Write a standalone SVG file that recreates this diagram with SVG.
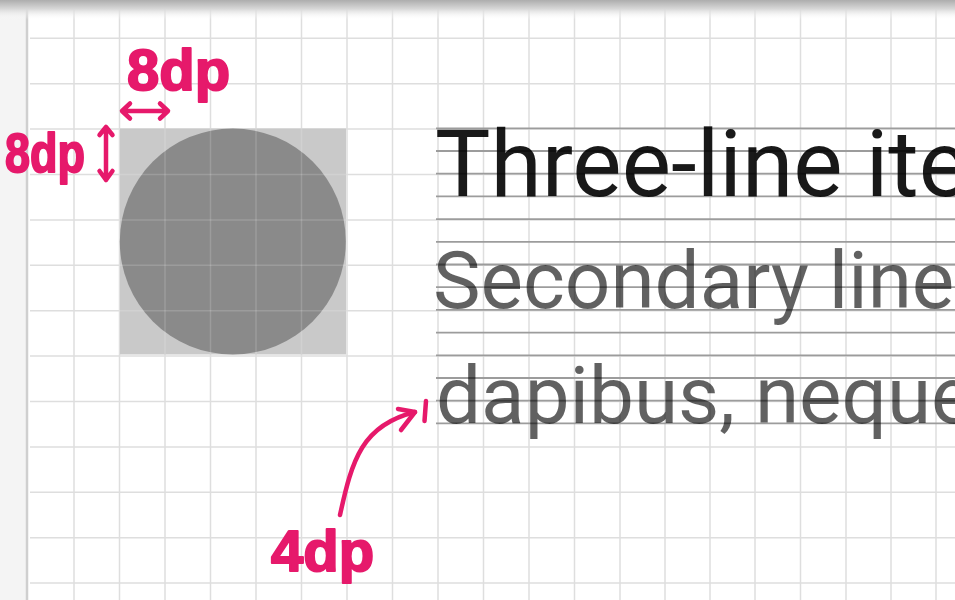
<svg xmlns="http://www.w3.org/2000/svg" width="955" height="600" viewBox="0 0 955 600">
<defs>
<style>
.grid line{stroke:#dedede;stroke-width:1.5}
.gridover line{stroke:#ffffff;stroke-opacity:.16;stroke-width:1.5}
.key line{stroke:#9c9c9c;stroke-width:1.8}
.hand{font-family:"Liberation Sans",Arial,sans-serif;font-weight:bold;fill:#e6196b;stroke:#e6196b;stroke-width:2;stroke-linejoin:round}
.pink{fill:none;stroke:#e6196b;stroke-width:4.5;stroke-linecap:round;stroke-linejoin:round}
.txt{font-family:Roboto,"Noto Sans",sans-serif}
</style>
<linearGradient id="topShade" x1="0" y1="0" x2="0" y2="1">
<stop offset="0" stop-color="#adadad"/>
<stop offset="0.45" stop-color="#d8d8d8"/>
<stop offset="1" stop-color="#ffffff" stop-opacity="0"/>
</linearGradient>
<clipPath id="avatarClip"><rect x="120" y="128.5" width="226" height="226"/></clipPath>
</defs>

<rect width="955" height="600" fill="#f4f4f4"/>
<rect x="28" y="0" width="927" height="600" fill="#ffffff"/>
<line x1="27" y1="0" x2="27" y2="600" stroke="#cfcfcf" stroke-width="2.5"/>

<g id="grid" class="grid">
<line x1="74" y1="0" x2="74" y2="600"/>
<line x1="119.5" y1="0" x2="119.5" y2="600"/>
<line x1="165" y1="0" x2="165" y2="600"/>
<line x1="210.5" y1="0" x2="210.5" y2="600"/>
<line x1="256" y1="0" x2="256" y2="600"/>
<line x1="301.5" y1="0" x2="301.5" y2="600"/>
<line x1="347" y1="0" x2="347" y2="600"/>
<line x1="392.5" y1="0" x2="392.5" y2="600"/>
<line x1="438" y1="0" x2="438" y2="600"/>
<line x1="483.5" y1="0" x2="483.5" y2="600"/>
<line x1="529" y1="0" x2="529" y2="600"/>
<line x1="574.5" y1="0" x2="574.5" y2="600"/>
<line x1="620" y1="0" x2="620" y2="600"/>
<line x1="665" y1="0" x2="665" y2="600"/>
<line x1="710" y1="0" x2="710" y2="600"/>
<line x1="755" y1="0" x2="755" y2="600"/>
<line x1="800.5" y1="0" x2="800.5" y2="600"/>
<line x1="846" y1="0" x2="846" y2="600"/>
<line x1="891" y1="0" x2="891" y2="600"/>
<line x1="936" y1="0" x2="936" y2="600"/>
<line x1="30" y1="38.3" x2="955" y2="38.3"/>
<line x1="30" y1="83.7" x2="955" y2="83.7"/>
<line x1="30" y1="129.1" x2="955" y2="129.1"/>
<line x1="30" y1="174.5" x2="955" y2="174.5"/>
<line x1="30" y1="219.9" x2="955" y2="219.9"/>
<line x1="30" y1="265.3" x2="955" y2="265.3"/>
<line x1="30" y1="310.7" x2="955" y2="310.7"/>
<line x1="30" y1="356.1" x2="955" y2="356.1"/>
<line x1="30" y1="401.5" x2="955" y2="401.5"/>
<line x1="30" y1="446.9" x2="955" y2="446.9"/>
<line x1="30" y1="492.3" x2="955" y2="492.3"/>
<line x1="30" y1="537.7" x2="955" y2="537.7"/>
<line x1="30" y1="583.1" x2="955" y2="583.1"/>
</g>

<rect x="0" y="0" width="955" height="20" fill="url(#topShade)"/>

<g id="avatar">
<rect x="120" y="128.5" width="226" height="226" fill="#c9c9c9"/>
<circle cx="232.8" cy="241.5" r="113" fill="#8a8a8a"/>
<g class="gridover" clip-path="url(#avatarClip)">
<line x1="165" y1="120" x2="165" y2="360"/>
<line x1="210.5" y1="120" x2="210.5" y2="360"/>
<line x1="256" y1="120" x2="256" y2="360"/>
<line x1="301.5" y1="120" x2="301.5" y2="360"/>
<line x1="110" y1="174.5" x2="350" y2="174.5"/>
<line x1="110" y1="219.9" x2="350" y2="219.9"/>
<line x1="110" y1="265.3" x2="350" y2="265.3"/>
<line x1="110" y1="310.7" x2="350" y2="310.7"/>
</g>
</g>

<g id="keylines" class="key">
<line x1="436" y1="128.3" x2="955" y2="128.3"/>
<line x1="436" y1="151" x2="955" y2="151"/>
<line x1="436" y1="173.7" x2="955" y2="173.7"/>
<line x1="436" y1="196.4" x2="955" y2="196.4"/>
<line x1="436" y1="219.1" x2="955" y2="219.1"/>
<line x1="436" y1="241.8" x2="955" y2="241.8"/>
<line x1="436" y1="264.5" x2="955" y2="264.5"/>
<line x1="436" y1="287.2" x2="955" y2="287.2"/>
<line x1="436" y1="309.9" x2="955" y2="309.9"/>
<line x1="436" y1="332.6" x2="955" y2="332.6"/>
<line x1="436" y1="355.3" x2="955" y2="355.3"/>
<line x1="436" y1="378" x2="955" y2="378"/>
<line x1="436" y1="400.7" x2="955" y2="400.7"/>
<line x1="436" y1="423.4" x2="955" y2="423.4"/>
</g>

<g id="primary-text">
<text class="txt" x="435" y="196" font-size="93" fill="#000" fill-opacity="0.9">Three-line ite</text>
</g>
<g id="secondary-text">
<text class="txt" x="433" y="308" font-size="80" fill="#000" fill-opacity="0.62">Secondary line</text>
</g>
<g id="tertiary-text">
<text class="txt" x="436" y="423" font-size="80" fill="#000" fill-opacity="0.62">dapibus, neque</text>
</g>

<g id="label-top-8dp"><text class="hand" x="127" y="90" font-size="58">8dp</text></g>
<g id="label-left-8dp"><text class="hand" x="5" y="172" font-size="56" textLength="80" lengthAdjust="spacingAndGlyphs">8dp</text></g>
<g id="label-4dp"><text class="hand" x="271" y="571" font-size="58">4dp</text></g>

<g id="connectors">
<path class="pink" d="M122,111 L168,111 M130,103.5 L122,111 L130,118.5 M160,103.5 L168,111 L160,118.5"/>
<path class="pink" d="M106,127 L106,180 M99.5,135 L106,127 L112.5,135 M99.5,171 L106,180 L112.5,171"/>
<path class="pink" d="M340,515 C352,460 362,425 415,412"/>
<path class="pink" d="M398,409 L415,412 L401,430"/>
<path class="pink" d="M426,401 L424.5,421" stroke-width="6.5"/>
</g>
</svg>
